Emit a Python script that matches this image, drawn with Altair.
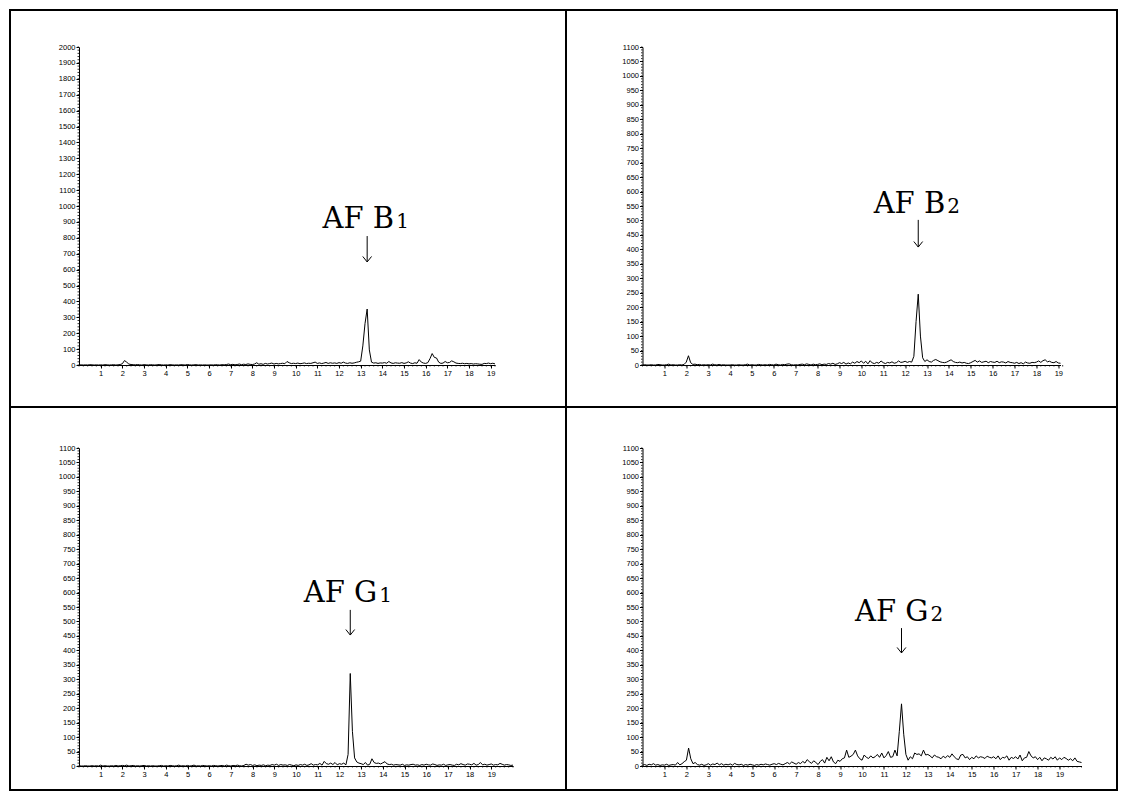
import altair as alt
import pandas as pd

STEP = 0.1

# AF B1 trace (0.0 .. 19.2 min)
B1 = [0,1,0,1,0,2,1,0,1,0,
      1,0,2,1,0,1,2,0,1,3,
      8,28,18,6,3,2,1,3,1,0,
      2,1,0,2,1,0,1,3,1,0,
      1,0,2,1,0,1,0,2,1,0,
      3,1,0,1,2,0,1,0,1,0,
      0,1,0,2,1,0,2,1,3,6,
      2,4,1,3,6,2,5,3,7,4,
      3,6,14,5,8,4,10,6,9,12,
      6,10,7,9,11,8,22,14,9,11,
      9,12,8,10,13,9,11,10,14,18,
      10,13,9,12,16,10,14,11,13,10,
      15,11,18,12,10,14,11,13,17,20,
      24,120,260,352,95,18,12,14,10,13,
      12,15,11,22,13,10,14,12,11,15,
      10,13,20,12,9,14,11,34,18,12,
      10,15,40,72,48,44,18,10,12,22,
      14,16,26,20,12,10,9,11,8,10,
      7,9,6,8,7,5,4,10,9,12,
      8,11,7]

# AF B2 trace (0.0 .. 19.1 min)
B2 = [0,1,0,0,1,0,0,2,1,0,
      0,1,3,0,1,0,0,1,0,2,
      10,32,8,2,3,1,2,0,1,0,
      1,0,3,1,0,2,0,1,0,0,
      0,1,0,0,1,0,0,1,3,0,
      1,0,0,2,1,0,1,0,2,1,
      0,3,1,0,2,1,3,4,1,0,
      1,0,2,3,1,4,2,0,3,1,
      2,4,1,3,2,5,3,6,2,4,
      8,5,9,3,7,4,10,6,12,8,
      14,6,13,4,15,7,5,9,6,14,
      8,5,9,7,11,6,8,14,9,10,
      13,9,12,10,30,150,245,100,25,12,
      18,12,10,16,19,15,11,9,8,10,
      14,18,12,9,8,10,7,9,6,5,
      8,12,16,10,14,9,11,13,8,12,
      10,9,13,8,11,10,7,12,9,8,
      6,9,5,8,4,10,7,6,9,8,
      10,14,9,15,18,11,13,9,8,12,
      7,6]

# AF G1 trace (0.0 .. 20.0 min)
G1 = [1,0,0,1,0,0,1,0,1,0,
      3,0,1,0,0,1,0,2,0,1,
      2,1,3,0,1,2,0,1,0,1,
      2,0,1,0,1,0,0,1,2,0,
      1,0,2,1,0,1,3,0,1,0,
      2,0,1,3,0,1,0,2,1,0,
      1,0,2,1,0,1,2,0,3,1,
      0,2,1,3,1,0,2,6,3,5,
      2,4,1,3,2,4,1,3,2,5,
      3,6,2,5,3,4,2,5,3,1,
      4,2,5,3,6,2,4,8,3,5,
      4,9,3,16,8,6,10,5,12,4,
      8,6,10,4,40,320,120,28,14,10,
      8,5,12,3,6,25,12,9,10,7,
      11,15,7,5,6,3,5,4,3,6,
      2,4,3,5,6,3,4,2,5,3,
      6,4,3,7,5,2,4,3,6,2,
      4,5,3,2,6,4,8,5,3,7,
      6,4,9,3,5,12,4,6,3,5,
      7,3,5,4,9,6,3,5,4,2,
      3]

# AF G2 trace (0.0 .. 20.0 min)
G2 = [3,5,2,6,4,8,3,5,2,4,
      3,6,2,4,5,3,12,4,8,15,
      20,62,25,8,12,5,3,6,2,4,
      8,3,7,5,10,4,8,3,6,4,
      7,3,9,5,4,6,2,5,3,6,
      4,2,5,3,6,4,7,5,3,6,
      8,5,9,6,4,8,12,7,14,10,
      6,12,8,16,10,22,15,9,18,12,
      5,16,22,10,30,18,32,14,8,20,
      16,25,28,55,30,34,40,55,35,25,
      20,38,30,26,35,28,32,40,30,45,
      28,36,50,30,32,55,35,120,215,110,
      40,20,32,25,45,40,42,35,55,38,
      40,35,28,38,32,30,25,34,28,36,
      30,42,32,25,22,38,40,28,32,22,
      30,25,35,28,32,30,26,34,30,28,
      32,25,35,22,30,28,35,20,30,26,
      32,24,38,18,28,30,50,35,28,32,
      22,30,18,28,25,20,30,24,32,20,
      28,22,30,26,20,25,18,28,16,14,
      12]

TRACES = [B1, B2, G1, G2]
Y_MAX = [2000, 1100, 1100, 1100]
Y_LABEL_STEP = [100, 50, 50, 50]
Y_MINOR_STEP = [20, 10, 10, 10]
X_MAX = [19.2, 19.1, 20.0, 20.0]
X_LABELS = list(range(1, 20))
PEAK_T = [13.3, 12.6, 12.5, 11.8]
LABEL_MAIN = ["AF B", "AF B", "AF G", "AF G"]
LABEL_SUB = ["1", "2", "1", "2"]
LABEL_Y = [862, 526, 567, 502]
ARROW_TOP = [811, 502, 540, 477]
ARROW_TIP = [648, 408, 453, 391]
WIDTHS = [416, 418, 434, 439]
HEIGHT = 318


def panel(i, with_frame=False):
    vals = TRACES[i]
    df = pd.DataFrame({"t": [round(k * STEP, 1) for k in range(len(vals))], "v": vals})
    xs = alt.Scale(domain=[0, X_MAX[i]], nice=False, zero=False)
    ys = alt.Scale(domain=[0, Y_MAX[i]], nice=False)
    xaxis = alt.Axis(
        title=None, values=X_LABELS, grid=False, format="d", tickSize=3,
        labelOverlap=False, labelFlush=False, labelBound=False, labelPadding=1,
    )
    yaxis = alt.Axis(
        title=None, values=list(range(0, Y_MAX[i] + 1, Y_LABEL_STEP[i])), grid=False,
        format="d", tickSize=3,
        labelOverlap=False, labelFlush=False, labelBound=False, labelPadding=1,
    )

    def X(f):
        return alt.X(f, scale=xs, axis=xaxis)

    def Y(f):
        return alt.Y(f, scale=ys, axis=yaxis)

    line = alt.Chart(df).mark_line(color="black", strokeWidth=1).encode(x=X("t:Q"), y=Y("v:Q"))
    # minor ticks
    xminor = pd.DataFrame({"t": [round(k * 0.2, 1) for k in range(int(round(X_MAX[i] / 0.2)) + 1)]})
    yminor = pd.DataFrame({"v": list(range(0, Y_MAX[i] + 1, Y_MINOR_STEP[i]))})
    xmin_l = alt.Chart(xminor).mark_rule(color="black", strokeWidth=0.8).encode(
        x=X("t:Q"), y=alt.value(HEIGHT), y2=alt.value(HEIGHT + 1.5))
    ymin_l = alt.Chart(yminor).mark_rule(color="black", strokeWidth=0.8).encode(
        y=Y("v:Q"), x=alt.value(0), x2=alt.value(-1.5))

    ann = pd.DataFrame({
        "t": [PEAK_T[i]], "ly": [LABEL_Y[i]], "top": [ARROW_TOP[i]], "tip": [ARROW_TIP[i]],
        "main": [LABEL_MAIN[i]], "sub": [LABEL_SUB[i]],
    })
    base = alt.Chart(ann)
    main = base.mark_text(align="right", baseline="alphabetic", dx=27, font="DejaVu Serif",
                          fontSize=29, color="black").encode(x=X("t:Q"), y=Y("ly:Q"), text="main:N")
    sub = base.mark_text(align="left", baseline="alphabetic", dx=29, font="DejaVu Serif",
                         fontSize=20, color="black").encode(x=X("t:Q"), y=Y("ly:Q"), text="sub:N")
    shaft = base.mark_rule(color="black", strokeWidth=1).encode(x=X("t:Q"), y=Y("top:Q"), y2="tip:Q")
    head = base.mark_point(shape="M-0.8,-1L0,0L0.8,-1", size=121, filled=False,
                           color="black", strokeWidth=1, opacity=1).encode(x=X("t:Q"), y=Y("tip:Q"))
    layers = [line, xmin_l, ymin_l, main, sub, shaft, head]
    if with_frame:
        one = alt.Data(values=[{"a": 1}])
        L, R, T, B, V, H = -69, 1038, -37, 743, 487, 360
        fr = dict(color="black", strokeWidth=2, strokeCap="square")
        layers += [
            alt.Chart(one).mark_rule(**fr).encode(x=alt.value(L), x2=alt.value(R), y=alt.value(T)),
            alt.Chart(one).mark_rule(**fr).encode(x=alt.value(L), x2=alt.value(R), y=alt.value(B)),
            alt.Chart(one).mark_rule(**fr).encode(x=alt.value(L), x2=alt.value(R), y=alt.value(H)),
            alt.Chart(one).mark_rule(**fr).encode(x=alt.value(L), y=alt.value(T), y2=alt.value(B)),
            alt.Chart(one).mark_rule(**fr).encode(x=alt.value(R), y=alt.value(T), y2=alt.value(B)),
            alt.Chart(one).mark_rule(**fr).encode(x=alt.value(V), y=alt.value(T), y2=alt.value(B)),
        ]
    return alt.layer(*layers).properties(width=WIDTHS[i], height=HEIGHT)


chart = alt.concat(
    panel(0, True), panel(1), panel(2), panel(3),
    columns=2, spacing={"row": 83, "column": 129.5}, bounds="flush",
).properties(
    padding=0, background="white"
).configure_view(strokeWidth=0).configure_axis(
    domainColor="black", domainWidth=1, tickColor="black", tickWidth=1,
    labelColor="black", labelFont="Liberation Sans", labelFontSize=7.5,
)

chart.save("out.html", embed_options={"renderer": "svg", "actions": False})
